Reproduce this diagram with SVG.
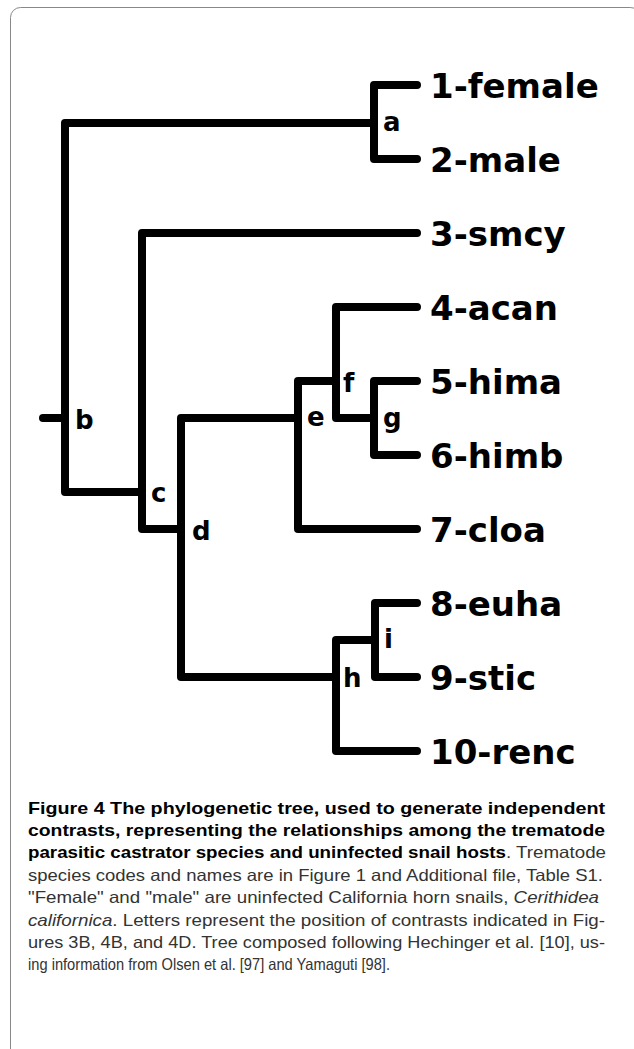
<svg xmlns="http://www.w3.org/2000/svg" width="634" height="1049" viewBox="0 0 634 1049">
<style>
.br{fill:none;stroke:#000;stroke-width:8;stroke-linecap:round;stroke-linejoin:round}
.leaf{font-family:"DejaVu Sans",sans-serif;font-weight:bold;font-size:34px;fill:#000}
.lab{font-family:"DejaVu Sans",sans-serif;font-weight:bold;font-size:26px;fill:#000}
.cap{font-family:"Liberation Sans",Arial,sans-serif;font-size:16.5px;fill:#333}
.b{font-weight:bold;fill:#000}
.i{font-style:italic}
</style>
<rect x="10.5" y="7.5" width="630" height="1100" rx="10" fill="#fff" stroke="#888" stroke-width="1"/>
<g id="connectors">
<path class="br" d="M43,418 H65"/>
<path class="br" d="M65,418 V123 H374"/>
<path class="br" d="M65,418 V492 H142"/>
<path class="br" d="M374,123 V85 H417"/>
<path class="br" d="M374,123 V159 H417"/>
<path class="br" d="M142,492 V233 H417"/>
<path class="br" d="M142,492 V529 H181"/>
<path class="br" d="M181,529 V418 H298"/>
<path class="br" d="M181,529 V677 H336"/>
<path class="br" d="M298,418 V381 H336"/>
<path class="br" d="M298,418 V529 H417"/>
<path class="br" d="M336,381 V307 H417"/>
<path class="br" d="M336,381 V418 H374"/>
<path class="br" d="M374,418 V381 H417"/>
<path class="br" d="M374,418 V455 H417"/>
<path class="br" d="M336,677 V640 H375"/>
<path class="br" d="M336,677 V751 H417"/>
<path class="br" d="M375,640 V603 H417"/>
<path class="br" d="M375,640 V677 H417"/>
</g>
<g id="node-a"><text class="lab" x="383" y="131">a</text></g>
<g id="node-b"><text class="lab" x="75" y="429">b</text></g>
<g id="node-c"><text class="lab" x="151" y="502">c</text></g>
<g id="node-d"><text class="lab" x="192" y="540">d</text></g>
<g id="node-e"><text class="lab" x="307" y="426">e</text></g>
<g id="node-f"><text class="lab" x="343" y="392">f</text></g>
<g id="node-g"><text class="lab" x="383" y="427">g</text></g>
<g id="node-h"><text class="lab" x="343" y="687">h</text></g>
<g id="node-i"><text class="lab" x="384" y="648">i</text></g>
<g id="leaf-1"><text class="leaf" x="430" y="98">1-female</text></g>
<g id="leaf-2"><text class="leaf" x="430" y="172">2-male</text></g>
<g id="leaf-3"><text class="leaf" x="430" y="246">3-smcy</text></g>
<g id="leaf-4"><text class="leaf" x="430" y="320">4-acan</text></g>
<g id="leaf-5"><text class="leaf" x="430" y="394">5-hima</text></g>
<g id="leaf-6"><text class="leaf" x="430" y="468">6-himb</text></g>
<g id="leaf-7"><text class="leaf" x="430" y="542">7-cloa</text></g>
<g id="leaf-8"><text class="leaf" x="430" y="616">8-euha</text></g>
<g id="leaf-9"><text class="leaf" x="430" y="690">9-stic</text></g>
<g id="leaf-10"><text class="leaf" x="430" y="764">10-renc</text></g>
<g id="caption" class="cap">
<text x="28" y="814" textLength="577" lengthAdjust="spacingAndGlyphs"><tspan class="b">Figure 4 The phylogenetic tree, used to generate independent</tspan></text>
<text x="28" y="836" textLength="577" lengthAdjust="spacingAndGlyphs"><tspan class="b">contrasts, representing the relationships among the trematode</tspan></text>
<text x="28" y="858" textLength="578" lengthAdjust="spacingAndGlyphs"><tspan class="b">parasitic castrator species and uninfected snail hosts</tspan>. Trematode</text>
<text x="28" y="881" textLength="575" lengthAdjust="spacingAndGlyphs">species codes and names are in Figure 1 and Additional file, Table S1.</text>
<text x="28" y="903" textLength="571" lengthAdjust="spacingAndGlyphs">"Female" and "male" are uninfected California horn snails, <tspan class="i">Cerithidea</tspan></text>
<text x="28" y="926" textLength="577" lengthAdjust="spacingAndGlyphs"><tspan class="i">californica</tspan>. Letters represent the position of contrasts indicated in Fig-</text>
<text x="28" y="948" textLength="577" lengthAdjust="spacingAndGlyphs">ures 3B, 4B, and 4D. Tree composed following Hechinger et al. [10], us-</text>
<text x="28" y="970" textLength="362" lengthAdjust="spacingAndGlyphs">ing information from Olsen et al. [97] and Yamaguti [98].</text>
</g>
</svg>
